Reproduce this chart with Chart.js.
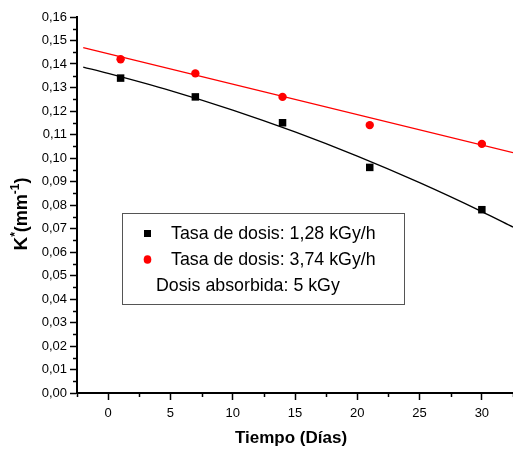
<!DOCTYPE html>
<html>
<head>
<meta charset="utf-8">
<script src="https://cdn.jsdelivr.net/npm/chart.js@4.4.1/dist/chart.umd.min.js"></script>
<style>
  html, body { margin: 0; padding: 0; background: #fff; overflow: hidden; }
  #wrap { width: 513px; height: 454px; }
</style>
</head>
<body>
<div id="wrap"><canvas id="grafico" width="513" height="454"></canvas></div>
<script>
// datos
const dias = [1, 7, 14, 21, 30];
const kBaja = [0.134, 0.126, 0.115, 0.096, 0.078];   // 1,28 kGy/h
const kAlta = [0.142, 0.136, 0.126, 0.114, 0.106];   // 3,74 kGy/h

// curvas de ajuste
const diasAjusteBaja = [-2, 0, 5, 10, 15, 20, 25, 30, 32.5];
const ajusteBaja = [0.1387, 0.1360, 0.1287, 0.1204, 0.1111, 0.1008, 0.0895, 0.0772, 0.0706];
const diasAjusteAlta = [-2, 32.5];
const ajusteAlta = [0.147, 0.1023];

const xTicks = [0, 5, 10, 15, 20, 25, 30];
const xMenores = [-2.5, 2.5, 7.5, 12.5, 17.5, 22.5, 27.5, 32.5];
const yTicks = [0, 0.01, 0.02, 0.03, 0.04, 0.05, 0.06, 0.07, 0.08, 0.09, 0.1, 0.11, 0.12, 0.13, 0.14, 0.15, 0.16];

const etiquetas = ["Tasa de dosis: 1,28 kGy/h", "Tasa de dosis: 3,74 kGy/h", "Dosis absorbida: 5 kGy"];

const fuente = "'Liberation Sans', Arial, sans-serif";

const pares = (xs, ys) => xs.map((x, i) => ({ x: x, y: ys[i] }));

// ticks menores, títulos y leyenda
const extras = {
  id: "extras",
  afterDraw(chart) {
    const c = chart.ctx;
    const xs = chart.scales.x;
    const ys = chart.scales.y;
    const area = chart.chartArea;
    c.save();
    c.strokeStyle = "#000";
    c.lineWidth = 1.5;
    xMenores.forEach((v) => {
      const px = Math.round(xs.getPixelForValue(v)) + 0.5;
      c.beginPath();
      c.moveTo(px, area.bottom);
      c.lineTo(px, area.bottom + 4);
      c.stroke();
    });
    const yMenores = yTicks.slice(1).map((v, i) => (v + yTicks[i]) / 2);
    yMenores.forEach((v) => {
      const py = Math.round(ys.getPixelForValue(v)) + 0.5;
      c.beginPath();
      c.moveTo(area.left, py);
      c.lineTo(area.left - 4, py);
      c.stroke();
    });

    // título eje x
    c.fillStyle = "#000";
    c.font = "bold 17px " + fuente;
    c.textAlign = "center";
    c.textBaseline = "alphabetic";
    c.fillText("Tiempo (Días)", 291, 443);

    // título eje y con superíndices
    const partes = [
      { t: "K", f: "bold 19px ", dy: 0 },
      { t: "*", f: "bold 12px ", dy: -8 },
      { t: "(mm", f: "bold 18px ", dy: 0 },
      { t: "-1", f: "bold 12px ", dy: -8 },
      { t: ")", f: "bold 18px ", dy: 0 },
    ];
    let total = 0;
    partes.forEach((p) => { c.font = p.f + fuente; p.w = c.measureText(p.t).width; total += p.w; });
    c.translate(27, 214);
    c.rotate(-Math.PI / 2);
    c.textAlign = "left";
    let u = -total / 2;
    partes.forEach((p) => { c.font = p.f + fuente; c.fillText(p.t, u, p.dy); u += p.w; });
    c.setTransform(1, 0, 0, 1, 0, 0);

    // leyenda
    c.strokeStyle = "#555";
    c.lineWidth = 1;
    c.strokeRect(122.5, 213.5, 282, 91);
    c.fillStyle = "#000";
    c.fillRect(144, 230, 7, 7);
    c.fillStyle = "#ff0000";
    c.beginPath();
    c.ellipse(147.5, 259.5, 3.8, 4.3, 0, 0, Math.PI * 2);
    c.fill();
    c.fillStyle = "#000";
    c.font = "17.8px " + fuente;
    c.textAlign = "left";
    c.textBaseline = "middle";
    c.fillText(etiquetas[0], 171, 234);
    c.fillText(etiquetas[1], 171, 260);
    c.fillText(etiquetas[2], 156, 286);
    c.restore();
  },
};

new Chart(document.getElementById("grafico"), {
  type: "scatter",
  data: {
    datasets: [
      {
        type: "line",
        data: pares(diasAjusteBaja, ajusteBaja),
        borderColor: "#000",
        borderWidth: 1.3,
        pointRadius: 0,
        cubicInterpolationMode: "monotone",
      },
      {
        type: "line",
        data: pares(diasAjusteAlta, ajusteAlta),
        borderColor: "#ff0000",
        borderWidth: 1.3,
        pointRadius: 0,
      },
      {
        data: pares(dias, kBaja),
        pointStyle: "rect",
        pointRadius: 5.3,
        backgroundColor: "#000",
        borderWidth: 0,
      },
      {
        data: pares(dias, kAlta),
        pointStyle: "circle",
        pointRadius: 4.2,
        backgroundColor: "#ff0000",
        borderWidth: 0,
      },
    ],
  },
  options: {
    responsive: false,
    animation: false,
    layout: { autoPadding: false, padding: { top: 17, right: -2, left: 0, bottom: 0 } },
    scales: {
      x: {
        type: "linear",
        min: -2.5,
        max: 32.5,
        afterBuildTicks: (s) => { s.ticks = xTicks.map((v) => ({ value: v })); },
        afterFit: (s) => { s.height = 61; s.paddingRight = 0; s.paddingLeft = 0; },
        ticks: {
          color: "#000",
          padding: 6,
          font: { family: fuente, size: 13 },
        },
        grid: { drawOnChartArea: false, tickLength: 7, tickWidth: 1.5, tickColor: "#000" },
        border: { color: "#000", width: 2 },
      },
      y: {
        min: 0,
        max: 0.16,
        afterBuildTicks: (s) => { s.ticks = yTicks.map((v) => ({ value: v })); },
        afterFit: (s) => { s.width = 77; },
        ticks: {
          color: "#000",
          padding: 3,
          font: { family: fuente, size: 13 },
          callback: (v) => v.toFixed(2).replace(".", ","),
        },
        grid: { drawOnChartArea: false, tickLength: 7, tickWidth: 1.5, tickColor: "#000" },
        border: { color: "#000", width: 2 },
      },
    },
    plugins: {
      legend: { display: false },
      tooltip: { enabled: false },
    },
  },
  plugins: [extras],
});
</script>
</body>
</html>
